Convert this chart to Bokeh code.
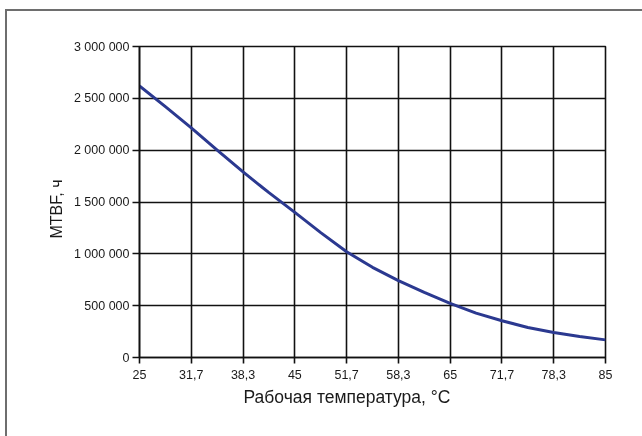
from bokeh.plotting import figure
from bokeh.models import FixedTicker, Range1d, Title
from bokeh.embed import file_html
from bokeh.resources import INLINE

# Data
temperature = [25, 85/3, 95/3, 35, 115/3, 125/3, 45, 145/3, 155/3, 55,
               175/3, 185/3, 65, 205/3, 215/3, 75, 235/3, 245/3, 85]
mtbf_hours = [2620000, 2420000, 2215000, 2000000, 1790000, 1590000, 1400000,
              1205000, 1020000, 870000, 742000, 628000, 522000, 428000,
              355000, 290000, 242000, 202000, 170000]

x_ticks = [25, 95/3, 115/3, 45, 155/3, 175/3, 65, 215/3, 235/3, 85]
x_tick_labels = ["25", "31,7", "38,3", "45", "51,7", "58,3", "65", "71,7", "78,3", "85"]
y_ticks = [0, 500000, 1000000, 1500000, 2000000, 2500000, 3000000]
y_tick_labels = ["0", "500 000", "1 000 000", "1 500 000", "2 000 000", "2 500 000", "3 000 000"]

x_title = "Рабочая температура, °C"
y_title = "MTBF, ч"

FONT = "Liberation Sans"

p = figure(width=650, height=440, frame_width=466, frame_height=311,
           min_border_left=132, min_border_right=52, min_border_top=35, min_border_bottom=94,
           x_range=Range1d(25, 85), y_range=Range1d(0, 3000000),
           output_backend="svg", toolbar_location=None, tools="")
p.styles = {"position": "fixed", "left": "5px", "top": "9px",
            "border-left": "2px solid #6e6e6e", "border-top": "2px solid #6e6e6e"}

p.background_fill_color = "white"
p.border_fill_color = "white"
p.outline_line_color = "#111111"
p.outline_line_width = 1.6

p.line(temperature, mtbf_hours, line_color="#2b3990", line_width=3, line_join="round")

for ax in (p.xaxis[0], p.yaxis[0]):
    ax.axis_line_color = "#111111"
    ax.axis_line_width = 1.6
    ax.major_tick_line_color = "#111111"
    ax.major_tick_line_width = 1.6
    ax.minor_tick_line_color = None
    ax.major_tick_in = 0
    ax.major_label_text_font = FONT
    ax.major_label_text_font_size = "12.5px"
    ax.major_label_text_color = "#1a1a1a"

p.xaxis.ticker = FixedTicker(ticks=x_ticks)
p.xaxis.major_label_overrides = dict(zip(x_ticks, x_tick_labels))
p.xaxis.major_tick_out = 6
p.xaxis.major_label_standoff = 6

p.yaxis.ticker = FixedTicker(ticks=y_ticks)
p.yaxis.major_label_overrides = dict(zip(y_ticks, y_tick_labels))
p.yaxis.major_tick_out = 7
p.yaxis.major_label_standoff = 3

p.xgrid.ticker = FixedTicker(ticks=x_ticks)
p.ygrid.ticker = FixedTicker(ticks=y_ticks)
for g in (p.xgrid[0], p.ygrid[0]):
    g.grid_line_color = "#111111"
    g.grid_line_width = 1.6
    g.grid_line_alpha = 1.0

p.add_layout(Title(text=y_title, align="left", offset=119, standoff=11,
                   text_font=FONT, text_font_size="16px", text_font_style="normal",
                   text_color="#1a1a1a"), "left")
p.add_layout(Title(text=x_title, align="left", offset=104, standoff=6,
                   text_font=FONT, text_font_size="17.5px", text_font_style="normal",
                   text_color="#1a1a1a"), "below")

open("out.html", "w").write(file_html(p, INLINE))
